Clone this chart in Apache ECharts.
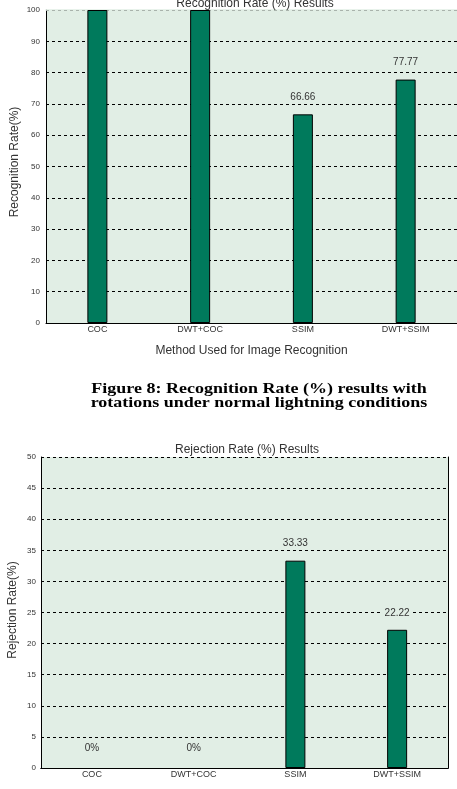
<!DOCTYPE html>
<html>
<head>
<meta charset="utf-8">
<script src="https://cdn.jsdelivr.net/npm/echarts@6/dist/echarts.min.js"></script>
<style>
  html, body { margin: 0; padding: 0; background: #fff; }
  #chart { width: 457px; height: 789px; }
</style>
</head>
<body>
<div id="chart"></div>
<script>
// data
var methods = ['COC', 'DWT+COC', 'SSIM', 'DWT+SSIM'];
var recognitionRate = [100, 100, 66.66, 77.77];
var recognitionLabels = ['', '', '66.66', '77.77'];
var rejectionRate = [0, 0, 33.33, 22.22];
var rejectionLabels = ['0%', '0%', '33.33', '22.22'];
var captionLines = ['Figure 8: Recognition Rate (%) results with', 'rotations under normal lightning conditions'];

var plotBg = '#e1eee5';
var barColor = '#007a5c';
var textColor = '#333';

function barData(values, labels, lift) {
    return values.map(function (v, i) {
        return {
            value: v,
            // zero bars: only the text, no outline
            itemStyle: v === 0 ? { borderWidth: 0, color: 'transparent' } : undefined,
            label: { formatter: labels[i], distance: v === 0 ? lift : 12 }
        };
    });
}

var commonLabel = {
    show: true,
    position: 'top',
    fontFamily: 'Liberation Sans',
    fontSize: 10,
    color: textColor,
    backgroundColor: plotBg,
    padding: [0, 3]
};

var tick = { inside: true, alignWithLabel: true, length: 4, lineStyle: { color: '#000' } };
var dashed = { show: true, lineStyle: { color: '#000', type: [3, 3], width: 1 } };

// rotated y axis titles, placed by hand
function yTitle(text, x, y) {
    return {
        type: 'text', x: x, y: y, rotation: Math.PI / 2,
        style: {
            text: text, textAlign: 'center', textVerticalAlign: 'middle',
            fontFamily: 'Liberation Sans', fontSize: 12, fill: textColor
        }
    };
}

var graphics = captionLines.map(function (t, i) {
    // caption under the first figure (squashed a bit vertically like the scan)
    return {
        type: 'text', x: 259, y: 389 + i * 14.5, scaleY: 0.85,
        style: {
            text: t, textAlign: 'center', textVerticalAlign: 'middle',
            fontFamily: 'Liberation Serif', fontWeight: 'bold', fontSize: 18, fill: '#000'
        }
    };
});
graphics.push(yTitle('Recognition Rate(%)', 15, 162));
graphics.push(yTitle('Rejection Rate(%)', 13, 610));

var chart = echarts.init(document.getElementById('chart'));

var option = {
    animation: false,
    backgroundColor: '#fff',
    textStyle: { fontFamily: 'Liberation Sans' },
    title: [
        {
            text: 'Recognition Rate (%) Results',
            left: 250, top: -7, textAlign: 'center',
            textStyle: { fontSize: 12, fontWeight: 'normal', color: textColor }
        },
        {
            text: 'Rejection Rate (%) Results',
            left: 242, top: 439, textAlign: 'center',
            textStyle: { fontSize: 12, fontWeight: 'normal', color: textColor }
        }
    ],
    graphic: graphics,
    grid: [
        { left: 46, top: 10, width: 411, height: 313, show: true, backgroundColor: plotBg, borderWidth: 0, outerBoundsMode: 'none' },
        { left: 41, top: 457, width: 407, height: 311, show: true, backgroundColor: plotBg, borderWidth: 0, outerBoundsMode: 'none' }
    ],
    xAxis: [
        {
            type: 'category', gridIndex: 0, data: methods,
            name: 'Method Used for Image Recognition', nameLocation: 'middle', nameGap: 22,
            nameTextStyle: { fontSize: 12, color: textColor },
            axisLine: { lineStyle: { color: '#000' } },
            axisTick: tick,
            axisLabel: { fontSize: 9, color: textColor, margin: 2 }
        },
        {
            type: 'category', gridIndex: 0, data: methods, position: 'top',
            axisLine: { show: true, lineStyle: { color: plotBg, width: 1.5 } },
            axisTick: tick,
            axisLabel: { show: false }
        },
        {
            type: 'category', gridIndex: 1, data: methods,
            name: 'Method Used for Image Recognition', nameLocation: 'middle', nameGap: 22,
            nameTextStyle: { fontSize: 12, color: textColor },
            axisLine: { lineStyle: { color: '#000' } },
            axisTick: tick,
            axisLabel: { fontSize: 9, color: textColor, margin: 2 }
        },
        {
            type: 'category', gridIndex: 1, data: methods, position: 'top',
            axisLine: { show: true, lineStyle: { color: '#000' } },
            axisTick: tick,
            axisLabel: { show: false }
        }
    ],
    yAxis: [
        {
            type: 'value', gridIndex: 0, min: 0, max: 100, interval: 10,
            axisLine: { show: true, lineStyle: { color: '#000' } },
            axisTick: { show: false },
            axisLabel: { fontSize: 8, color: textColor, margin: 6 },
            splitLine: dashed
        },
        {
            type: 'value', gridIndex: 1, min: 0, max: 50, interval: 5,
            axisLine: { show: true, lineStyle: { color: '#000' } },
            axisTick: { show: false },
            axisLabel: { fontSize: 8, color: textColor, margin: 5 },
            splitLine: dashed
        },
        {
            type: 'value', gridIndex: 1, min: 0, max: 50, interval: 5, position: 'right',
            axisLine: { show: true, lineStyle: { color: '#000' } },
            axisTick: { show: false },
            axisLabel: { show: false },
            splitLine: { show: false }
        }
    ],
    series: [
        {
            type: 'bar', xAxisIndex: 0, yAxisIndex: 0,
            data: barData(recognitionRate, recognitionLabels, 12),
            barWidth: 20,
            itemStyle: { color: barColor, borderColor: '#000', borderWidth: 1 },
            label: commonLabel
        },
        {
            type: 'bar', xAxisIndex: 2, yAxisIndex: 1,
            data: barData(rejectionRate, rejectionLabels, 15),
            barWidth: 20,
            itemStyle: { color: barColor, borderColor: '#000', borderWidth: 1 },
            label: commonLabel
        }
    ]
};

chart.setOption(option);
</script>
</body>
</html>
